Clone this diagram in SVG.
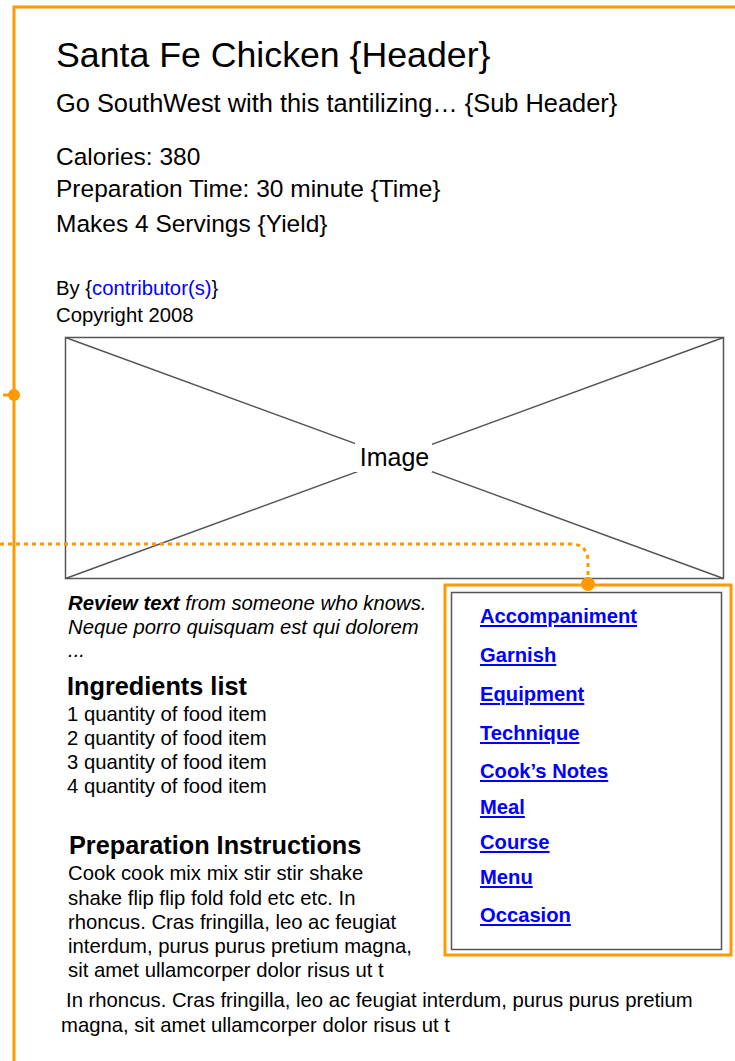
<svg xmlns="http://www.w3.org/2000/svg" width="735" height="1061" viewBox="0 0 735 1061">
<style>
text{font-family:"Liberation Sans",Arial,sans-serif;fill:#000}
.big{font-size:24.5px}
.body{font-size:20.3px}
.h2{font-size:25.3px;font-weight:bold}
.lnk{font-size:20.2px;font-weight:bold;fill:#0000ff;text-decoration:underline}
.org{stroke:#ff9900;fill:none;stroke-width:3}
</style>
<rect width="735" height="1061" fill="#fff"/>
<g id="frame">
<path class="org" d="M14,1061 V7 H735"/>
<path class="org" d="M3,395 H14"/>
<circle cx="14" cy="395" r="6" fill="#ff9900"/>
</g>
<g id="header">
<text x="56" y="67" font-size="35.7">Santa Fe Chicken {Header}</text>
<text x="56" y="112" font-size="25.4">Go SouthWest with this tantilizing… {Sub Header}</text>
<text x="56" y="165" class="big">Calories: 380</text>
<text x="56" y="197" class="big">Preparation Time: 30 minute {Time}</text>
<text x="56" y="232" class="big">Makes 4 Servings {Yield}</text>
<text x="56" y="295" class="body">By {<tspan fill="#0000ff">contributor(s)</tspan>}</text>
<text x="56" y="322" class="body">Copyright 2008</text>
</g>
<g id="image">
<rect x="65.5" y="337.5" width="658" height="241" fill="#fff" stroke="#555" stroke-width="1.5"/>
<path d="M65.5,337.5 L723.5,578.5 M723.5,337.5 L65.5,578.5" stroke="#555" stroke-width="1.5"/>
<rect x="355" y="442" width="77" height="30" fill="#fff"/>
<text x="394.5" y="466" text-anchor="middle" font-size="25">Image</text>
</g>
<g id="review">
<text x="68" y="610" class="body" font-style="italic"><tspan font-weight="bold">Review text</tspan> from someone who knows.</text>
<text x="68" y="634" class="body" font-style="italic">Neque porro quisquam est qui dolorem</text>
<text x="68" y="657" class="body" font-style="italic">...</text>
</g>
<g id="ingredients">
<text x="67" y="695" class="h2">Ingredients list</text>
<text x="67" y="721" class="body">1 quantity of food item</text>
<text x="67" y="745" class="body">2 quantity of food item</text>
<text x="67" y="769" class="body">3 quantity of food item</text>
<text x="67" y="793" class="body">4 quantity of food item</text>
</g>
<g id="instructions">
<text x="69" y="854" class="h2">Preparation Instructions</text>
<text x="68" y="880" class="body">Cook cook mix mix stir stir shake</text>
<text x="68" y="905" class="body">shake flip flip fold fold etc etc. In</text>
<text x="68" y="929" class="body">rhoncus. Cras fringilla, leo ac feugiat</text>
<text x="68" y="953" class="body">interdum, purus purus pretium magna,</text>
<text x="68" y="977" class="body">sit amet ullamcorper dolor risus ut t</text>
<text x="66" y="1007" class="body">In rhoncus. Cras fringilla, leo ac feugiat interdum, purus purus pretium</text>
<text x="61" y="1032" class="body">magna, sit amet ullamcorper dolor risus ut t</text>
</g>
<g id="sidebar">
<rect x="445" y="585" width="286" height="370" fill="none" stroke="#ff9900" stroke-width="3"/>
<rect x="451.5" y="592.5" width="270" height="357" fill="#fff" stroke="#555" stroke-width="1.5"/>
<text x="480" y="623" class="lnk">Accompaniment</text>
<text x="480" y="662" class="lnk">Garnish</text>
<text x="480" y="701" class="lnk">Equipment</text>
<text x="480" y="740" class="lnk">Technique</text>
<text x="480" y="778" class="lnk">Cook’s Notes</text>
<text x="480" y="814" class="lnk">Meal</text>
<text x="480" y="849" class="lnk">Course</text>
<text x="480" y="884" class="lnk">Menu</text>
<text x="480" y="922" class="lnk">Occasion</text>
</g>
<g id="connectors">
<path d="M0,544 H570 Q588,544 588,562 V584" fill="none" stroke="#ff9900" stroke-width="3" stroke-dasharray="4,4"/>
<circle cx="588" cy="584" r="7" fill="#ff9900"/>
</g>
</svg>
